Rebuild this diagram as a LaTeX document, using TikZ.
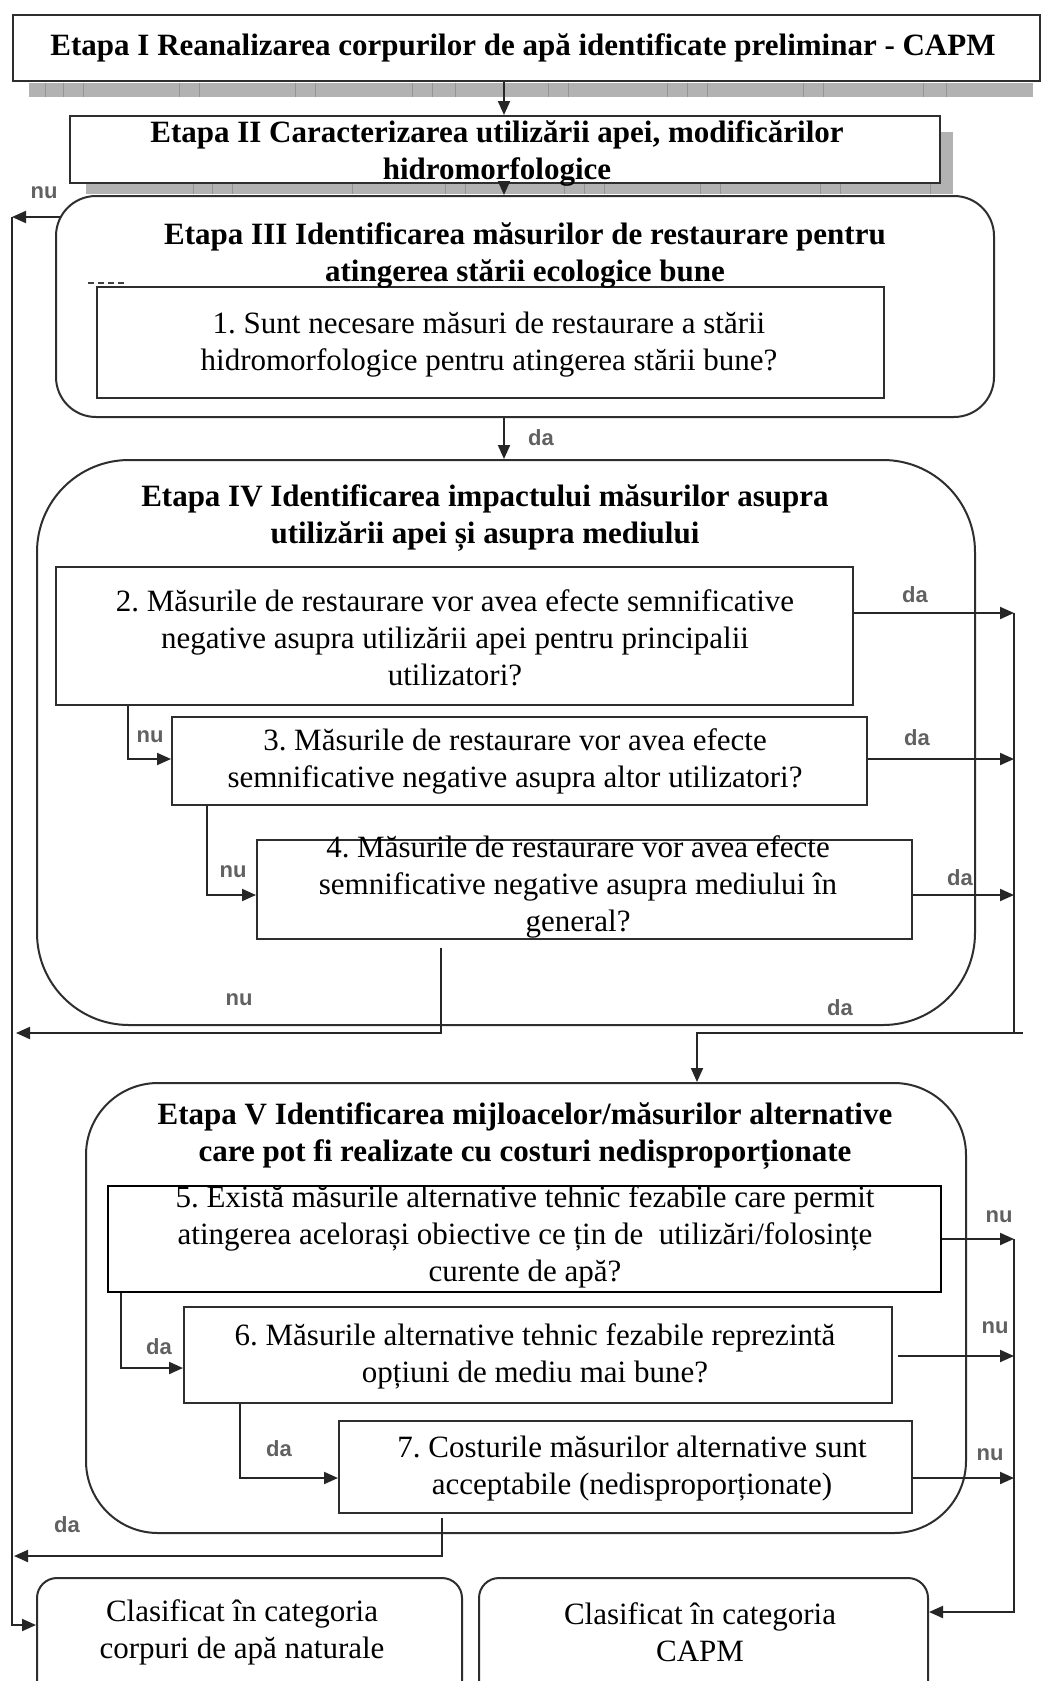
\documentclass[tikz,border=0pt]{standalone}
\usepackage{fontspec}
\setmainfont{Liberation Serif}
\newfontfamily\lblfont{Liberation Sans}
\usetikzlibrary{arrows.meta}
\begin{document}
\frenchspacing
\begin{tikzpicture}[x=1pt,y=-1pt,
  box/.style={draw=black!82, line width=2pt, inner sep=0pt},
  txt/.style={align=center, inner sep=0pt, font=\fontsize{31}{37}\selectfont\frenchspacing},
  hd/.style={align=center, inner sep=0pt, font=\fontsize{31}{37}\selectfont\bfseries\frenchspacing},
  lbl/.style={inner sep=0pt, text=black!62, font=\lblfont\bfseries\fontsize{22}{22}\selectfont},
  conn/.style={draw=black!85, line width=2pt},
  arr/.style={conn, -{Triangle[length=14pt,width=12pt]}},
  shade/.style={fill=black!30},
  tick/.style={draw=black!42, line width=1pt}
]
\useasboundingbox (0,0) rectangle (1041,1681);
\fill[white] (0,0) rectangle (1041,1681);

% shadow strips
\fill[shade] (29,83) rectangle (1033,97);
\foreach \t in {45,63,83,179,199,295,315,412,432,455,548,568,667,687,707,803,823,923,946}
  \draw[tick] (\t,83) -- (\t,97);
\fill[shade] (86,184) rectangle (953,194);
\fill[shade] (941,132) rectangle (953,194);
\foreach \t in {193,212,232,352,445,465,564,584,604,700,720,820,840,930}
  \draw[tick] (\t,184) -- (\t,194);

% boxes
\node[box, minimum width=1027pt, minimum height=66pt] (bI) at (526.5,48) {};
\node[box, fill=white, minimum width=870pt, minimum height=67pt] (bII) at (505,149.5) {};
\node[box, rounded corners=40pt, minimum width=938pt, minimum height=221pt] (bIII) at (525,306.5) {};
\node[box, minimum width=787pt, minimum height=111pt] (b1) at (490.5,342.5) {};
\node[box, rounded corners=92pt, minimum width=938pt, minimum height=565pt] (bIV) at (506,742.5) {};
\node[box, minimum width=797pt, minimum height=138pt] (b2) at (454.5,636) {};
\node[box, minimum width=695pt, minimum height=88pt] (b3) at (519.5,761) {};
\node[box, minimum width=655pt, minimum height=99pt] (b4) at (584.5,889.5) {};
\node[box, rounded corners=72pt, minimum width=880pt, minimum height=450pt] (bV) at (526,1308) {};
\node[box, draw=black, line width=2.6pt, minimum width=833pt, minimum height=106pt] (b5) at (524.5,1239) {};
\node[box, minimum width=708pt, minimum height=96pt] (b6) at (538,1355) {};
\node[box, minimum width=573pt, minimum height=92pt] (b7) at (625.5,1467) {};
\begin{scope}
\clip (0,0) rectangle (1041,1681);
\node[box, rounded corners=20pt, minimum width=425pt, minimum height=142pt] (bL) at (249.5,1649) {};
\node[box, rounded corners=20pt, minimum width=449pt, minimum height=142pt] (bR) at (703.5,1649) {};
\end{scope}
\draw[black!75, line width=1.5pt, dash pattern=on 6pt off 4pt] (88,283) -- (126,283);

% texts
\node[hd] (tI) at (523,48) {Etapa I Reanalizarea corpurilor de apă identificate preliminar - CAPM};
\node[hd] (tII) at (497,153) {Etapa II Caracterizarea utilizării apei, modificărilor\\hidromorfologice};
\node[hd] (tIII) at (525,255) {Etapa III Identificarea măsurilor de restaurare pentru\\atingerea stării ecologice bune};
\node[txt] (t1) at (489,345) {1. Sunt necesare măsuri de restaurare a stării\\hidromorfologice pentru atingerea stării bune?};
\node[hd] (tIV) at (485,518) {Etapa IV Identificarea impactului măsurilor asupra\\utilizării apei și asupra mediului};
\node[txt] (t2) at (455,638) {2. Măsurile de restaurare vor avea efecte semnificative\\negative asupra utilizării apei pentru principalii\\utilizatori?};
\node[txt] (t3) at (515,761) {3. Măsurile de restaurare vor avea efecte\\semnificative negative asupra altor utilizatori?};
\node[txt] (t4) at (578,887) {4. Măsurile de restaurare vor avea efecte\\semnificative negative asupra mediului în\\general?};
\node[hd] (tV) at (525,1136) {Etapa V Identificarea mijloacelor/măsurilor alternative\\care pot fi realizate cu costuri nedisproporționate};
\node[txt] (t5) at (525,1237) {5. Există măsurile alternative tehnic fezabile care permit\\atingerea acelorași obiective ce țin de\ \ utilizări/folosințe\\curente de apă?};
\node[txt] (t6) at (535,1356) {6. Măsurile alternative tehnic fezabile reprezintă\\opțiuni de mediu mai bune?};
\node[txt] (t7) at (632,1469) {7. Costurile măsurilor alternative sunt\\acceptabile (nedisproporționate)};
\node[txt] (tL) at (242,1632) {Clasificat în categoria\\corpuri de apă naturale};
\node[txt] (tR) at (700,1632) {Clasificat în categoria\\CAPM};

% coordinates
\coordinate (lt) at (12,217);
\coordinate (lb) at (12,1625);
\coordinate (r1) at (1014,613);
\coordinate (r3) at (1014,759);
\coordinate (r4) at (1014,895);
\coordinate (r2) at (1014,1033);
\coordinate (hr) at (1023,1033);
\coordinate (hd) at (697,1033);
\coordinate (ln) at (16,1033);
\coordinate (r5) at (1014,1239);
\coordinate (r6) at (1014,1356);
\coordinate (r7) at (1014,1478);
\coordinate (r8) at (1014,1612);
\coordinate (ld) at (14,1556);

% connectors
\draw[arr] (bI.south -| 504,0) -- (bII.north -| 504,0);
\draw[arr] (bII.south -| 504,0) -- (bIII.north -| 504,0);
\draw[arr] (60,217) -- (lt);
\draw[arr] (lt) -- (lb) -- (bL.west |- lb);
\draw[arr] (bIII.south -| 504,0) -- (bIV.north -| 504,0);

\draw[arr] (b2.east |- r1) -- (r1);
\draw[arr] (b3.east |- r3) -- (r3);
\draw[arr] (b4.east |- r4) -- (r4);
\draw[conn] (r1) -- (r2);
\draw[arr] (hr) -- (hd) -- (bV.north -| hd);
\draw[arr] (b2.south -| 128,0) -- (128,759) -- (b3.west |- 0,759);
\draw[arr] (b3.south -| 207,0) -- (207,895) -- (b4.west |- 0,895);
\draw[arr, shorten <=8pt] (b4.south -| 441,0) -- (441,1033) -- (ln);

\draw[arr] (b5.east |- r5) -- (r5);
\draw[arr, shorten <=5pt] (b6.east |- r6) -- (r6);
\draw[arr] (b7.east |- r7) -- (r7);
\draw[arr] (r5) -- (r8) -- (bR.east |- r8);
\draw[arr] (b5.south -| 121,0) -- (121,1368) -- (b6.west |- 0,1368);
\draw[arr] (b6.south -| 240,0) -- (240,1478) -- (b7.west |- 0,1478);
\draw[arr, shorten <=4pt] (b7.south -| 442,0) -- (442,1556) -- (ld);

% labels
\node[lbl] (lnu0) at (44,193) {nu};
\node[lbl] (lda0) at (541,438) {da};
\node[lbl] (lda2) at (915,595) {da};
\node[lbl] (lda3) at (917,738) {da};
\node[lbl] (lda4) at (960,878) {da};
\node[lbl] (lnu2) at (150,737) {nu};
\node[lbl] (lnu3) at (233,872) {nu};
\node[lbl] (lnu4) at (239,1000) {nu};
\node[lbl] (ldaIV) at (840,1008) {da};
\node[lbl] (lnu5) at (999,1217) {nu};
\node[lbl] (lnu6) at (995,1328) {nu};
\node[lbl] (lnu7) at (990,1455) {nu};
\node[lbl] (lda5) at (159,1347) {da};
\node[lbl] (lda6) at (279,1449) {da};
\node[lbl] (lda7) at (67,1525) {da};
\end{tikzpicture}
\end{document}
